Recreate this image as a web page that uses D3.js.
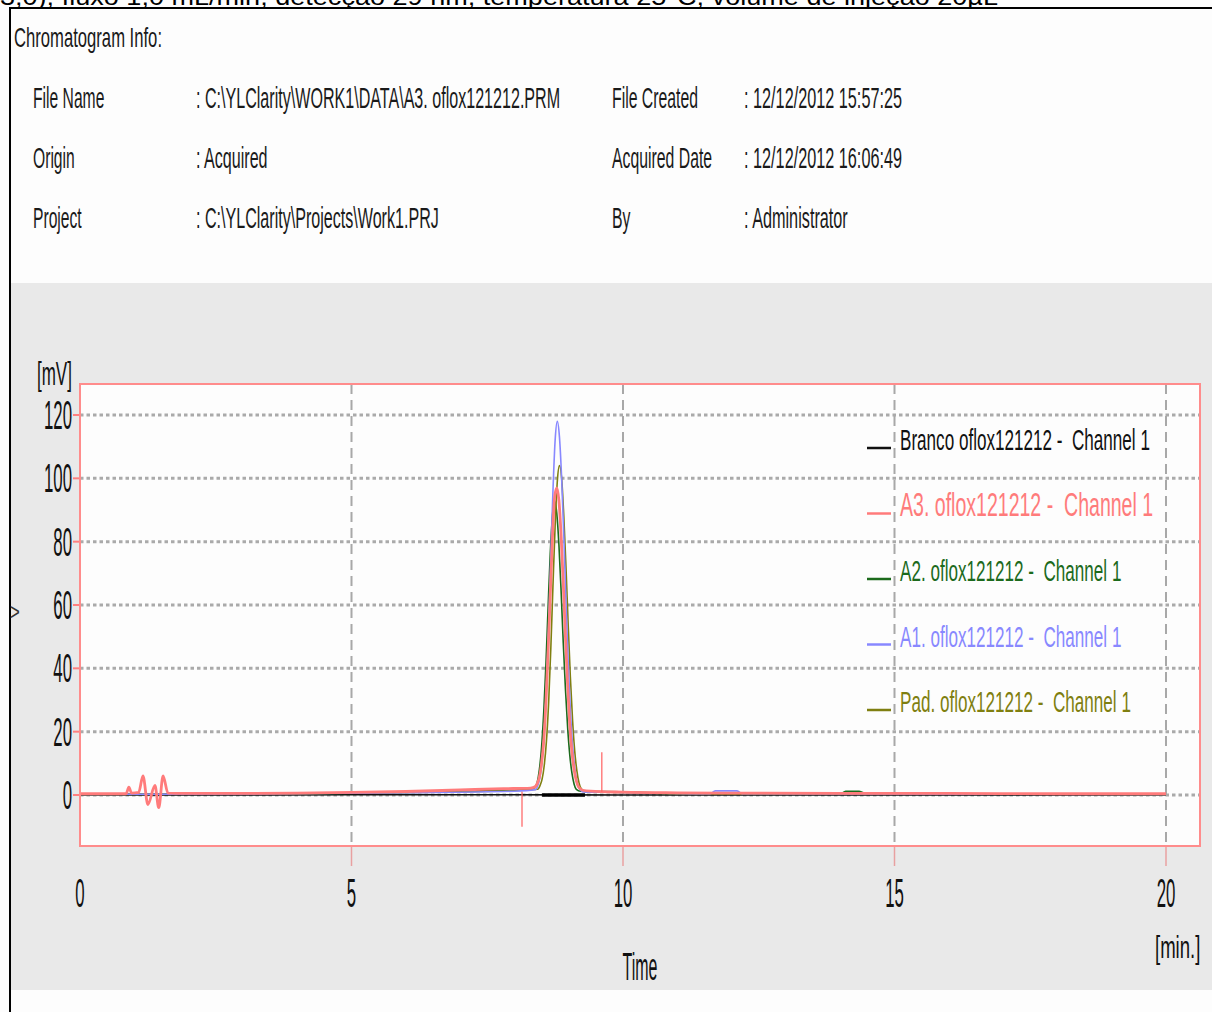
<!DOCTYPE html>
<html>
<head>
<meta charset="utf-8">
<script src="https://cdn.jsdelivr.net/npm/d3@7"></script>
<style>
  body { margin: 0; background: #fdfdfd; }
  svg text { font-family: "Liberation Sans", Arial, sans-serif; white-space: pre; }
</style>
</head>
<body>
<svg id="chart" width="1212" height="1012"></svg>
<script>
// ---- data ----
const captionText = "3,0), fluxo 1,0 mL/min, detecção 29 nm, temperatura 25°C, volume de injeção 20µL";
const infoLeftLabels = ["File Name", "Origin", "Project"];
const infoLeftValues = [": C:\\YLClarity\\WORK1\\DATA\\A3. oflox121212.PRM", ": Acquired", ": C:\\YLClarity\\Projects\\Work1.PRJ"];
const infoRightLabels = ["File Created", "Acquired Date", "By"];
const infoRightValues = [": 12/12/2012 15:57:25", ": 12/12/2012 16:06:49", ": Administrator"];

const timeTicks = [0, 5, 10, 15, 20];
const mvTicks = [0, 20, 40, 60, 80, 100, 120];

const seriesNames = ["Branco oflox121212 -  Channel 1", "A3. oflox121212 -  Channel 1", "A2. oflox121212 -  Channel 1", "A1. oflox121212 -  Channel 1", "Pad. oflox121212 -  Channel 1"];
const seriesColors = ["#111111", "#ff7b7b", "#1c6a1c", "#8888ff", "#7f7f10"];

// [time (min), signal (mV)]
const brancoData = [[0, 0], [2, 0], [5, 0.1], [8, 0.1], [10, 0], [15, 0], [20, 0]];
const a3Data = [[0, 0.4], [0.85, 0.4], [0.9, 2.5], [0.95, 0.6], [1.08, 0.8], [1.16, 6], [1.25, -3], [1.38, 3], [1.45, -4], [1.53, 6], [1.62, 0.6],
  [2, 0.5], [3, 0.5], [4, 0.6], [5, 0.8], [6, 1.1], [7, 1.6], [7.8, 2.0], [8.3, 2.2], [8.38, 2.6], [8.42, 3.6], [8.46, 5.7], [8.5, 10], [8.54, 17],
  [8.58, 29], [8.62, 45], [8.66, 63], [8.7, 81], [8.74, 94], [8.78, 97], [8.82, 93], [8.86, 82], [8.9, 67], [8.94, 50], [8.98, 35], [9.02, 22],
  [9.06, 13.5], [9.1, 8], [9.14, 4.5], [9.18, 2.6], [9.26, 1.5], [9.4, 1.2], [10, 0.9], [11, 0.7], [12, 0.6], [14, 0.5], [16, 0.5], [18, 0.4], [20, 0.4]];
const a2Data = [[0, 0.2], [3, 0.3], [6, 0.8], [7, 1.2], [8, 1.6], [8.34, 2.0], [8.38, 2.6], [8.42, 4], [8.46, 8], [8.5, 15], [8.54, 26], [8.58, 41],
  [8.62, 59], [8.66, 76], [8.7, 88], [8.74, 93], [8.78, 89], [8.82, 79], [8.86, 64.5], [8.9, 48], [8.94, 33.5], [8.98, 21.4], [9.02, 12.6], [9.06, 6.9],
  [9.1, 3.4], [9.14, 1.8], [9.22, 1.2], [10, 1.0], [11, 0.5], [14, 0.3], [14.1, 1.2], [14.35, 1.2], [14.5, 0.3], [20, 0.2]];
const a1Data = [[0, 0.2], [3, 0.3], [6, 0.7], [8, 1.2], [8.39, 1.7], [8.43, 2.9], [8.47, 5.5], [8.51, 10.6], [8.55, 19.6], [8.59, 34], [8.63, 53],
  [8.67, 75], [8.71, 96], [8.75, 112], [8.79, 118], [8.83, 113], [8.87, 100], [8.91, 82], [8.95, 61], [8.99, 42.5], [9.03, 27], [9.07, 16], [9.11, 8.7],
  [9.15, 4.4], [9.19, 2.2], [9.27, 1.0], [10, 0.8], [11.6, 0.4], [11.7, 1.3], [12.1, 1.3], [12.2, 0.4], [20, 0.2]];
const padData = [[0, 0.2], [3, 0.3], [6, 0.8], [8, 1.4], [8.43, 1.8], [8.47, 2.9], [8.51, 5], [8.55, 9.4], [8.59, 17], [8.63, 29], [8.67, 46],
  [8.71, 66], [8.75, 85], [8.79, 99], [8.83, 104], [8.87, 100], [8.91, 88], [8.95, 72], [8.99, 54], [9.03, 37.4], [9.07, 24], [9.11, 14], [9.15, 7.7],
  [9.19, 3.8], [9.23, 2.0], [9.31, 1.0], [10, 0.8], [11, 0.4], [20, 0.2]];
const seriesData = [brancoData, a3Data, a2Data, a1Data, padData];
const drawOrder = [0, 2, 4, 3, 1];

const integrationBase = [[8.51, 0], [9.3, 0]];
const markerTimes = [8.14, 9.61];
const markerRanges = [[1, -10], [1, 13.5]];

// ---- layout ----
const svg = d3.select("#chart");
const plot = { left: 80, right: 1200, top: 384, bottom: 846 };
const x = d3.scaleLinear().domain([0, 20]).range([80, 1166]);
const y = d3.scaleLinear().domain([0, 120]).range([795, 415]);

function label(txt, px, py, size, sx, anchor, color) {
  return svg.append("text")
    .attr("transform", `translate(${px},${py}) scale(${sx},1)`)
    .attr("font-size", size)
    .attr("text-anchor", anchor || "start")
    .attr("fill", color || "#1a1a1a")
    .text(txt);
}

// caption strip cut at the top of the page
svg.append("text").attr("x", 0).attr("y", 5).attr("font-size", 24)
  .attr("textLength", 998).attr("lengthAdjust", "spacingAndGlyphs")
  .attr("fill", "#000").text(captionText);

// outer frame (only top and left borders visible)
svg.append("rect").attr("x", 10).attr("y", 8).attr("width", 1210).attr("height", 1010)
  .attr("fill", "#fdfdfd").attr("stroke", "#000").attr("stroke-width", 2);

label("Chromatogram Info:", 14, 47, 28, 0.595);
infoLeftLabels.forEach((t, i) => label(t, 33, 108 + i * 60, 29, 0.54));
infoLeftValues.forEach((t, i) => label(t, 196, 108 + i * 60, 29, 0.555));
infoRightLabels.forEach((t, i) => label(t, 612, 108 + i * 60, 29, 0.545));
infoRightValues.forEach((t, i) => label(t, 744, 108 + i * 60, 29, 0.56));

// gray chart panel
svg.append("rect").attr("x", 11).attr("y", 283).attr("width", 1201).attr("height", 707).attr("fill", "#e9e9e9");

svg.append("rect").attr("x", plot.left).attr("y", plot.top)
  .attr("width", plot.right - plot.left).attr("height", plot.bottom - plot.top)
  .attr("fill", "#fdfdfd");

// grid
svg.append("g").selectAll("line").data(mvTicks).join("line")
  .attr("x1", plot.left).attr("x2", plot.right)
  .attr("y1", d => y(d)).attr("y2", d => y(d))
  .attr("stroke", "#aaaaaa").attr("stroke-width", 3).attr("stroke-dasharray", "3.5,3");
svg.append("g").selectAll("line").data(timeTicks.slice(1)).join("line")
  .attr("x1", d => x(d)).attr("x2", d => x(d))
  .attr("y1", plot.top).attr("y2", plot.bottom)
  .attr("stroke", "#a8a8a8").attr("stroke-width", 2).attr("stroke-dasharray", "10,6");

// ticks
svg.append("g").selectAll("line").data(mvTicks).join("line")
  .attr("x1", plot.left - 7).attr("x2", plot.left)
  .attr("y1", d => y(d)).attr("y2", d => y(d))
  .attr("stroke", "#ff8080").attr("stroke-width", 2);
svg.append("g").selectAll("line").data(timeTicks.slice(1)).join("line")
  .attr("x1", d => x(d)).attr("x2", d => x(d))
  .attr("y1", plot.bottom).attr("y2", plot.bottom + 20)
  .attr("stroke", "#e8a0a0").attr("stroke-width", 1.5);

// tick labels
mvTicks.forEach(v => label(String(v), 72, y(v) + 14, 40, 0.42, "end", "#111"));
timeTicks.forEach(v => label(String(v), x(v), 907, 40, 0.42, "middle", "#111"));
label("[mV]", 37, 385, 34, 0.5, "start", "#111");
label("Time", 640, 980, 38, 0.42, "middle", "#111");
label("[min.]", 1155, 958, 32, 0.58, "start", "#111");
label(">", 10, 620, 24, 0.7, "start", "#333");

// traces
svg.append("clipPath").attr("id", "clip").append("rect")
  .attr("x", plot.left).attr("y", plot.top)
  .attr("width", plot.right - plot.left).attr("height", plot.bottom - plot.top);
const traces = svg.append("g").attr("clip-path", "url(#clip)");
const line = d3.line().x(d => x(d[0])).y(d => y(d[1])).curve(d3.curveMonotoneX);

drawOrder.forEach(i => {
  traces.append("path").datum(seriesData[i])
    .attr("fill", "none").attr("stroke", seriesColors[i])
    .attr("stroke-width", i === 1 ? 2.8 : 1.6)
    .attr("d", line);
});
traces.append("path").datum(integrationBase)
  .attr("fill", "none").attr("stroke", "#000").attr("stroke-width", 3.5).attr("d", line);
traces.selectAll("line.marker").data(markerTimes).join("line")
  .attr("class", "marker")
  .attr("x1", d => x(d)).attr("x2", d => x(d))
  .attr("y1", (d, i) => y(markerRanges[i][0])).attr("y2", (d, i) => y(markerRanges[i][1]))
  .attr("stroke", "#ff6060").attr("stroke-width", 1.2);

// plot frame
svg.append("rect").attr("x", plot.left).attr("y", plot.top)
  .attr("width", plot.right - plot.left).attr("height", plot.bottom - plot.top)
  .attr("fill", "none").attr("stroke", "#ff8c8c").attr("stroke-width", 2);

// legend
const legend = svg.append("g");
seriesNames.forEach((name, i) => {
  const by = 450 + i * 65.5;
  legend.append("line").attr("x1", 867).attr("x2", 891).attr("y1", by - 2).attr("y2", by - 2)
    .attr("stroke", seriesColors[i]).attr("stroke-width", 2.5);
  label(name, 900, by, i === 1 ? 34 : 30, i === 1 ? 0.575 : 0.57, "start", seriesColors[i]);
});
</script>
</body>
</html>
